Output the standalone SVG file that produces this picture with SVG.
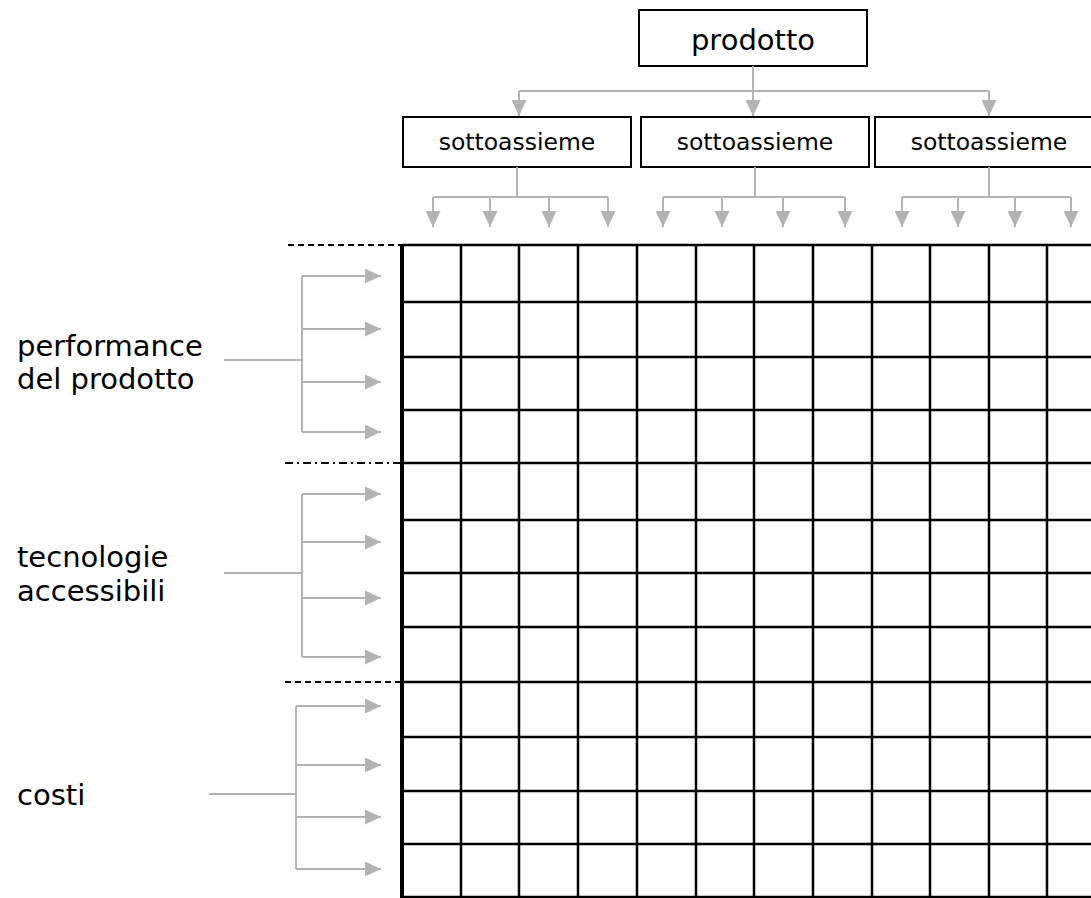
<svg xmlns="http://www.w3.org/2000/svg" width="1091" height="898" viewBox="0 0 1091 898">
<style>
.box{fill:#fff;stroke:#000;stroke-width:2}
.t{font-family:"DejaVu Sans","Verdana",sans-serif;fill:#000}
.c{fill:none;stroke:#b3b3b3;stroke-width:2}
.g{stroke:#000;stroke-width:2.5;fill:none}
.dash{stroke:#000;stroke-width:2;stroke-dasharray:6 4;fill:none}
.dashdot{stroke:#000;stroke-width:2;stroke-dasharray:8 4 2 4;fill:none}
</style>
<defs>
<marker id="ah" viewBox="0 0 16 15" refX="16" refY="7.5" markerWidth="16" markerHeight="15" markerUnits="userSpaceOnUse" orient="auto">
<path d="M0,0 L16,7.5 L0,15 Z" fill="#b3b3b3"/>
</marker>
</defs>
<rect width="1091" height="898" fill="#fff"/>

<g id="grid">
<path class="g" d="M461,245V898M519,245V898M578,245V898M637,245V898M696,245V898M754,245V898M813,245V898M872,245V898M930,245V898M989,245V898M1047,245V898"/>
<path class="g" d="M402,245H1091M402,302H1091M402,357H1091M402,410H1091M402,463H1091M402,520H1091M402,573H1091M402,627H1091M402,682H1091M402,737H1091M402,791H1091M402,844H1091M402,897H1091"/>
<path d="M402,244V898" stroke="#000" stroke-width="4"/>
<path class="dash" d="M288,245H1091"/>
<path class="dashdot" d="M285,463H1091"/>
<path class="dash" d="M285,682H1091"/>
</g>

<g id="prodotto">
<rect class="box" x="639" y="10" width="228" height="56"/>
<text class="t" x="753" y="50" font-size="29" text-anchor="middle">prodotto</text>
</g>
<g id="sottoassieme1">
<rect class="box" x="403" y="117" width="228" height="50"/>
<text class="t" x="517" y="150" font-size="23.5" text-anchor="middle">sottoassieme</text>
</g>
<g id="sottoassieme2">
<rect class="box" x="641" y="117" width="228" height="50"/>
<text class="t" x="755" y="150" font-size="23.5" text-anchor="middle">sottoassieme</text>
</g>
<g id="sottoassieme3">
<rect class="box" x="875" y="117" width="230" height="50"/>
<text class="t" x="989" y="150" font-size="23.5" text-anchor="middle">sottoassieme</text>
</g>

<g id="performance">
<text class="t" x="17" y="356" font-size="29">performance</text>
<text class="t" x="17" y="389" font-size="29">del prodotto</text>
</g>
<g id="tecnologie">
<text class="t" x="17" y="567" font-size="29">tecnologie</text>
<text class="t" x="17" y="601" font-size="29">accessibili</text>
</g>
<g id="costi">
<text class="t" x="17" y="805" font-size="29">costi</text>
</g>

<g id="connectors">
<path class="c" d="M753,66V91M519,91H989"/>
<path class="c" d="M519,91V116" marker-end="url(#ah)"/>
<path class="c" d="M753,91V116" marker-end="url(#ah)"/>
<path class="c" d="M989,91V116" marker-end="url(#ah)"/>

<path class="c" d="M517,167V197M433,197H608"/>
<path class="c" d="M433,197V227" marker-end="url(#ah)"/>
<path class="c" d="M490,197V227" marker-end="url(#ah)"/>
<path class="c" d="M549,197V227" marker-end="url(#ah)"/>
<path class="c" d="M608,197V227" marker-end="url(#ah)"/>

<path class="c" d="M755,167V197M663,197H845"/>
<path class="c" d="M663,197V227" marker-end="url(#ah)"/>
<path class="c" d="M722,197V227" marker-end="url(#ah)"/>
<path class="c" d="M783,197V227" marker-end="url(#ah)"/>
<path class="c" d="M845,197V227" marker-end="url(#ah)"/>

<path class="c" d="M989,167V197M902,197H1071"/>
<path class="c" d="M902,197V227" marker-end="url(#ah)"/>
<path class="c" d="M958,197V227" marker-end="url(#ah)"/>
<path class="c" d="M1015,197V227" marker-end="url(#ah)"/>
<path class="c" d="M1071,197V227" marker-end="url(#ah)"/>

<path class="c" d="M224,360H302M302,276V432"/>
<path class="c" d="M302,276H381" marker-end="url(#ah)"/>
<path class="c" d="M302,329H381" marker-end="url(#ah)"/>
<path class="c" d="M302,382H381" marker-end="url(#ah)"/>
<path class="c" d="M302,432H381" marker-end="url(#ah)"/>

<path class="c" d="M224,573H302M302,494V657"/>
<path class="c" d="M302,494H381" marker-end="url(#ah)"/>
<path class="c" d="M302,542H381" marker-end="url(#ah)"/>
<path class="c" d="M302,598H381" marker-end="url(#ah)"/>
<path class="c" d="M302,657H381" marker-end="url(#ah)"/>

<path class="c" d="M209,794H296M296,706V869"/>
<path class="c" d="M296,706H381" marker-end="url(#ah)"/>
<path class="c" d="M296,765H381" marker-end="url(#ah)"/>
<path class="c" d="M296,817H381" marker-end="url(#ah)"/>
<path class="c" d="M296,869H381" marker-end="url(#ah)"/>
</g>
</svg>
